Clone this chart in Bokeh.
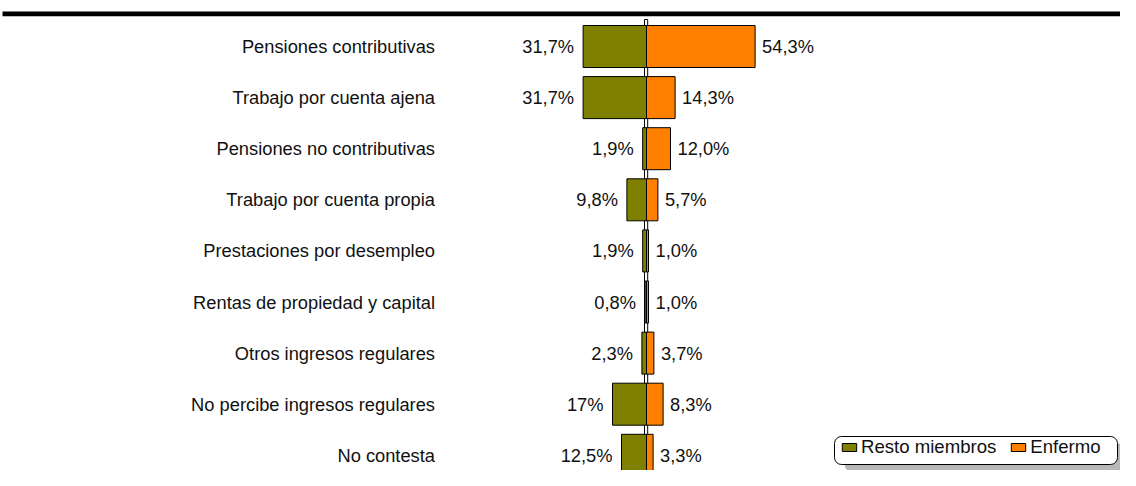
from bokeh.plotting import figure
from bokeh.models import Range1d, Legend, LegendItem, ColumnDataSource, Quad
from bokeh.core.properties import value
from bokeh.embed import file_html
from bokeh.resources import INLINE

# ---- data ----
categories = ["Pensiones contributivas", "Trabajo por cuenta ajena", "Pensiones no contributivas",
              "Trabajo por cuenta propia", "Prestaciones por desempleo", "Rentas de propiedad y capital",
              "Otros ingresos regulares", "No percibe ingresos regulares", "No contesta"]
resto = [31.7, 31.7, 1.9, 9.8, 1.9, 0.8, 2.3, 17.0, 12.5]
enfermo = [54.3, 14.3, 12.0, 5.7, 1.0, 1.0, 3.7, 8.3, 3.3]
resto_labels = ["31,7%", "31,7%", "1,9%", "9,8%", "1,9%", "0,8%", "2,3%", "17%", "12,5%"]
enfermo_labels = ["54,3%", "14,3%", "12,0%", "5,7%", "1,0%", "1,0%", "3,7%", "8,3%", "3,3%"]
series_names = ["Resto miembros", "Enfermo"]
series_colors = ["#808000", "#FF8000"]

# ---- layout constants ----
W, H = 1120, 470
ZERO_PX = 646          # pixel position of 0 %
PX_PER_PCT = 2.0
ROW0_PX = 46.0         # pixel centre of first row
ROW_PX = 51.1          # row pitch in pixels

x_start = -ZERO_PX / PX_PER_PCT
x_end = (W - ZERO_PX) / PX_PER_PCT
y_top = -ROW0_PX / ROW_PX
y_bottom = (H - ROW0_PX) / ROW_PX


def px_x(fx):
    return x_start + fx / PX_PER_PCT


def px_y(fy):
    return y_top + fy / ROW_PX


FONT_NAME = "Liberation Sans"
FONT = value(FONT_NAME)
FS = "18.3px"

p = figure(width=W, height=H, output_backend="svg", toolbar_location=None,
           x_range=Range1d(x_start, x_end), y_range=Range1d(y_bottom, y_top),
           min_border=0, outline_line_color=None,
           x_axis_location=None, y_axis_location=None)
p.xgrid.visible = False
p.ygrid.visible = False
p.background_fill_color = "white"
p.border_fill_color = "white"

idx = list(range(len(categories)))
src = ColumnDataSource(dict(
    y=idx, cat=categories,
    resto_left=[-v for v in resto], enf=enfermo,
    rl=resto_labels, el=enfermo_labels,
))

# top thick rule
p.segment(x0=[px_x(2)], x1=[px_x(W + 6)], y0=[px_y(13.3)], y1=[px_y(13.3)],
          line_color="black", line_width=4.7, line_cap="butt")

# centre axis (double line)
p.quad(left=[px_x(ZERO_PX - 2.0)], right=[px_x(ZERO_PX + 1.2)], top=[px_y(19)], bottom=[px_y(H + 5)],
       fill_color="white", line_color="black", line_width=1)

bar_h = 42 / ROW_PX
r_resto = p.hbar(y="y", left="resto_left", right=0, height=bar_h, source=src,
                 fill_color=series_colors[0], line_color="black", line_width=1)
r_enf = p.hbar(y="y", left=0, right="enf", height=bar_h, source=src,
               fill_color=series_colors[1], line_color="black", line_width=1)

# category labels
p.text(x=px_x(434.5), y="y", text="cat", source=src, text_align="right", text_baseline="middle",
       text_font=FONT, text_font_size=FS, text_color="#111111")

# value labels
p.text(x="resto_left", y="y", text="rl", source=src, x_offset=-9, text_align="right",
       text_baseline="middle", text_font=FONT, text_font_size=FS, text_color="#111111")
p.text(x="enf", y="y", text="el", source=src, x_offset=7, text_align="left",
       text_baseline="middle", text_font=FONT, text_font_size=FS, text_color="#111111")

# legend frame + shadow
has_radius = "border_radius" in Quad.properties()
shadow_kw = dict(left=[px_x(844)], right=[px_x(1127)], top=[px_y(443)], bottom=[px_y(471)],
                 fill_color="#b8b8b8", line_color=None)
box_kw = dict(left=[px_x(834)], right=[px_x(1117)], top=[px_y(436)], bottom=[px_y(464)],
              fill_color="white", line_color="black", line_width=1)
if has_radius:
    shadow_kw["border_radius"] = 7
    box_kw["border_radius"] = 7
p.quad(**shadow_kw)
p.quad(**box_kw)

legend = Legend(items=[LegendItem(label=series_names[0], renderers=[r_resto]),
                       LegendItem(label=series_names[1], renderers=[r_enf])],
                orientation="horizontal", location=(840, 12), margin=0, padding=0,
                spacing=13, label_standoff=3, glyph_width=18, glyph_height=10,
                label_height=16, label_text_font=FONT_NAME, label_text_font_size="18.6px",
                label_text_color="#111111", background_fill_alpha=0, border_line_color=None)
p.add_layout(legend)

open("out.html", "w").write(file_html(p, INLINE))
